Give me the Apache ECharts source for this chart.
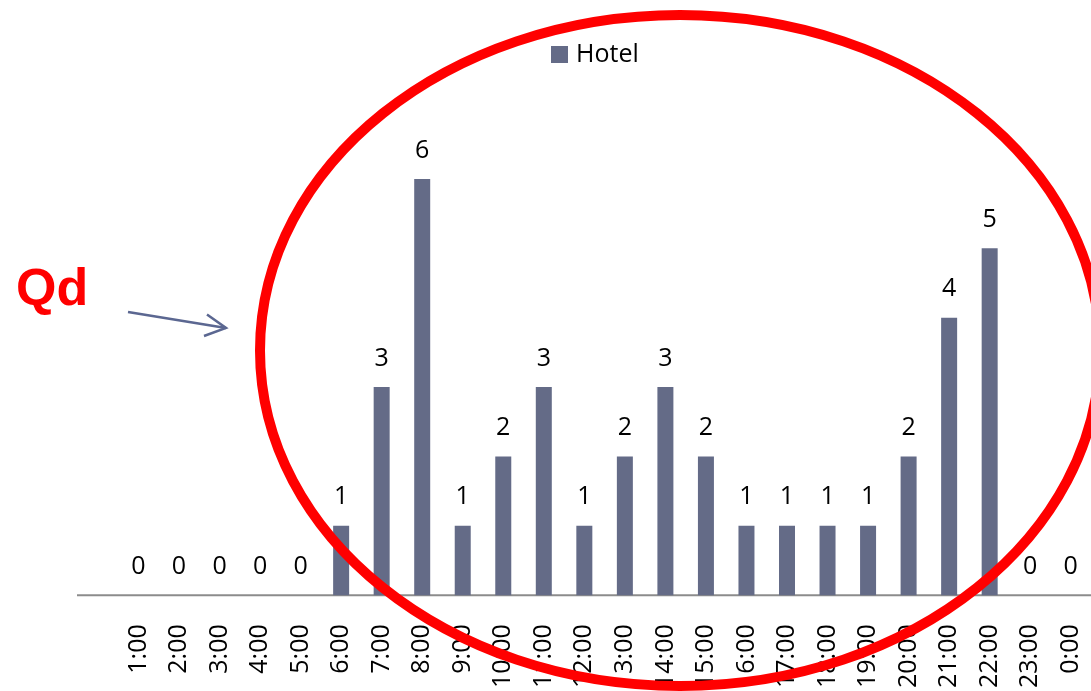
<!DOCTYPE html>
<html>
<head>
<meta charset="utf-8">
<script src="https://cdn.jsdelivr.net/npm/echarts@6/dist/echarts.min.js"></script>
<style>
html,body{margin:0;padding:0;background:#fff;}
#chart{width:1091px;height:691px;}
</style>
</head>
<body>
<div id="chart"></div>
<script>
const categories = ['1:00','2:00','3:00','4:00','5:00','6:00','7:00','8:00','9:00','10:00','11:00','12:00',
  '13:00','14:00','15:00','16:00','17:00','18:00','19:00','20:00','21:00','22:00','23:00','0:00'];
const hotelValues = [0,0,0,0,0,1,3,6,1,2,3,1,2,3,2,1,1,1,1,2,4,5,0,0];
const seriesName = 'Hotel';
const annotationText = 'Qd';

const FONT = '"Open Sans", "Noto Sans", sans-serif';
const chart = echarts.init(document.getElementById('chart'), null, {renderer: 'canvas'});

chart.setOption({
  animation: false,
  backgroundColor: '#ffffff',
  legend: {
    data: [seriesName],
    left: 546,
    top: 37,
    icon: 'rect',
    itemWidth: 17,
    itemHeight: 17,
    itemStyle: {borderWidth: 0},
    textStyle: {fontFamily: FONT, fontSize: 25, color: '#000', padding: [0,0,0,3]}
  },
  grid: {left: 118.2, width: 984, top: 109.5, bottom: 93, containLabel: false},
  xAxis: {
    type: 'category',
    data: categories,
    axisLine: {show: false},
    axisTick: {show: false},
    axisLabel: {interval: 0, rotate: 90, margin: 29, fontFamily: FONT, fontSize: 25, color: '#000'}
  },
  yAxis: {
    type: 'value', min: 0, max: 7, show: false,
    splitLine: {show: false}
  },
  series: [{
    name: seriesName,
    type: 'bar',
    data: hotelValues,
    barWidth: 16,
    z: 3,
    itemStyle: {color: '#646b87', borderWidth: 0},
    label: {show: true, position: 'top', distance: 16, fontFamily: FONT, fontSize: 25, color: '#000'}
  }]
});

// baseline (category axis line) placed at the y-scale zero, extended to the left edge of the plot frame
const y0 = chart.convertToPixel({yAxisIndex: 0}, 0);
chart.setOption({
  graphic: [
    {type: 'line', shape: {x1: 77, y1: y0, x2: 1091, y2: y0}, style: {stroke: '#8c8c8c', lineWidth: 2}, z: 1},
    {type: 'text', left: 16, top: 265, style: {text: annotationText, font: 'bold 52px "Liberation Sans", Arial, sans-serif', fill: '#ff0000'}, z: 20},
    {type: 'line', shape: {x1: 128, y1: 312, x2: 226, y2: 328}, style: {stroke: '#5b6791', lineWidth: 2.5}, z: 20},
    {type: 'polyline', shape: {points: [[207, 314.5], [226, 328], [204, 336]]}, style: {stroke: '#5b6791', lineWidth: 2.5, fill: null}, z: 20},
    {type: 'ellipse', shape: {cx: 680, cy: 350.5, rx: 420, ry: 335.5}, style: {stroke: '#ff0000', lineWidth: 10, fill: null}, z: 30}
  ]
});
</script>
</body>
</html>
